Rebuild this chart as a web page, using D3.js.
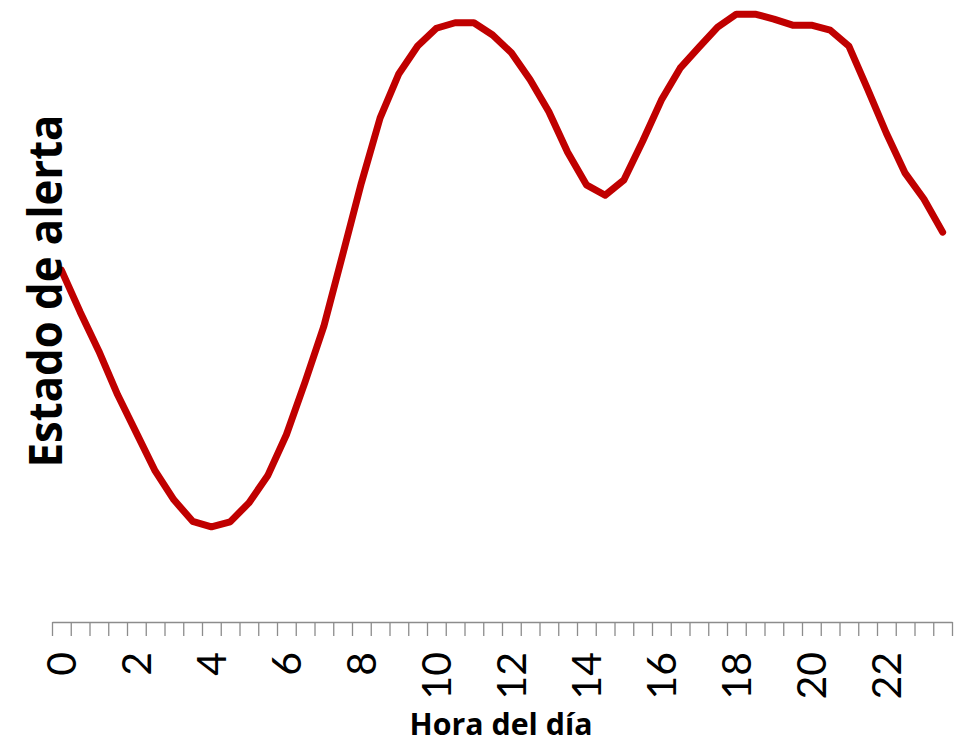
<!DOCTYPE html>
<html>
<head>
<meta charset="utf-8">
<script src="https://cdn.jsdelivr.net/npm/d3@7"></script>
<style>
  body { margin: 0; background: #fff; }
  svg { display: block; }
</style>
</head>
<body>
<div id="chart"></div>
<script>
(function(){

// Data
let hours = [0, 0.5, 1, 1.5, 2, 2.5, 3, 3.5, 4, 4.5, 5, 5.5, 6, 6.5, 7, 7.5,
  8, 8.5, 9, 9.5, 10, 10.5, 11, 11.5, 12, 12.5, 13, 13.5, 14, 14.5, 15, 15.5,
  16, 16.5, 17, 17.5, 18, 18.5, 19, 19.5, 20, 20.5, 21, 21.5, 22, 22.5, 23, 23.5]

let alerta = [57.3, 50.5, 44.1, 37.0, 30.8, 24.6, 19.9, 16.4, 15.5, 16.3, 19.4, 23.8,
  30.5, 39.1, 48.2, 59.8, 71.5, 82.1, 89.3, 93.8, 96.7, 97.6, 97.6, 95.6,
  92.7, 88.3, 83.1, 76.5, 71.2, 69.5, 72.0, 78.3, 85.0, 90.2, 93.6, 96.9,
  99.0, 99.0, 98.2, 97.2, 97.2, 96.4, 93.8, 86.8, 79.6, 73.1, 68.9, 63.5]

let tickLabels = [0, 2, 4, 6, 8, 10, 12, 14, 16, 18, 20, 22]

let data = hours.map(function(h, i){ return { hour: h, value: alerta[i] } })

let margin = { top: 8, left: 52, right: 8, bottom: 117 }
let totalWidth = 960, totalHeight = 739
let width = 900
let height = totalHeight - margin.top - margin.bottom

let svg = d3.select('#chart')
  .append('svg')
  .attr('width', totalWidth)
  .attr('height', totalHeight)

let g = svg.append('g')
  .attr('transform', 'translate(' + margin.left + ',' + margin.top + ')')

// Scales
let xBand = d3.scaleBand().domain(hours).range([0, width]).padding(0)
let xEdges = d3.scaleLinear().domain([0, hours.length]).range([0, width])
let yScale = d3.scaleLinear().domain([0, 100]).range([height, 0])

// Axis: tick marks on category boundaries
let tickAxis = d3.axisBottom(xEdges)
  .tickValues(d3.range(hours.length + 1))
  .tickFormat('')
  .tickSize(14)
  .tickSizeOuter(0)

let axisG = g.append('g')
  .attr('transform', 'translate(0,' + height + ')')
  .call(tickAxis)
axisG.select('.domain').attr('stroke', '#8c8c8c').attr('stroke-width', 1.3)
axisG.selectAll('.tick line').attr('stroke', '#8c8c8c').attr('stroke-width', 1.3)

// Axis labels, rotated
let labelAxis = d3.axisBottom(xBand)
  .tickValues(tickLabels)
  .tickSize(0)
  .tickSizeOuter(0)

let labelG = g.append('g')
  .attr('transform', 'translate(0,' + height + ')')
  .call(labelAxis)
labelG.select('.domain').remove()
labelG.selectAll('.tick text')
  .attr('font-family', 'Lato, "Open Sans", sans-serif')
  .attr('font-size', 41)
  .attr('fill', '#000')
  .attr('text-anchor', 'end')
  .attr('dy', '0.36em')
  .attr('y', 0)
  .attr('x', -30)
  .attr('transform', 'rotate(-90)')

// Line
let line = d3.line()
  .x(function(d){ return xBand(d.hour) + xBand.bandwidth() / 2 })
  .y(function(d){ return yScale(d.value) })

g.append('path')
  .datum(data)
  .attr('fill', 'none')
  .attr('stroke', '#c00000')
  .attr('stroke-width', 7)
  .attr('stroke-linejoin', 'round')
  .attr('stroke-linecap', 'round')
  .attr('d', line)

// Titles
svg.append('text')
  .attr('x', 501)
  .attr('y', 735)
  .attr('text-anchor', 'middle')
  .attr('font-family', '"Open Sans", sans-serif')
  .attr('font-weight', 'bold')
  .attr('font-size', 30)
  .attr('textLength', 183)
  .attr('lengthAdjust', 'spacingAndGlyphs')
  .text('Hora del día')

svg.append('text')
  .attr('transform', 'translate(62,291) rotate(-90)')
  .attr('text-anchor', 'middle')
  .attr('font-family', '"Open Sans", sans-serif')
  .attr('font-weight', 'bold')
  .attr('font-size', 46)
  .attr('textLength', 353)
  .attr('lengthAdjust', 'spacingAndGlyphs')
  .text('Estado de alerta')

})()
</script>
</body>
</html>
